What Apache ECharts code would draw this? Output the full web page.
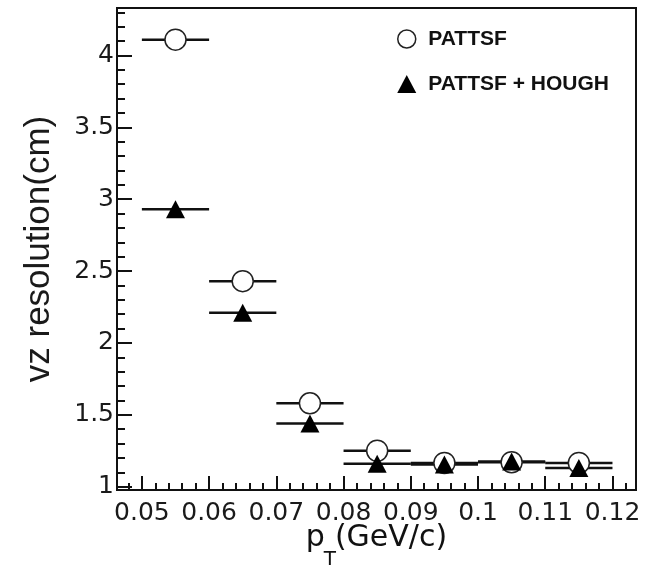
<!DOCTYPE html>
<html>
<head>
<meta charset="utf-8">
<script src="https://cdn.jsdelivr.net/npm/echarts@6/dist/echarts.min.js"></script>
<style>html,body{margin:0;padding:0;background:#fff;}#c{width:662px;height:566px;}</style>
</head>
<body>
<div id="c"></div>
<script>
// ---- data ----
const ptCenters = [0.055, 0.065, 0.075, 0.085, 0.095, 0.105, 0.115];
const ptHalfWidth = [0.005, 0.005, 0.005, 0.005, 0.005, 0.005, 0.005];
const pattsf = [4.11, 2.43, 1.58, 1.25, 1.165, 1.17, 1.165];
const pattsfHough = [2.93, 2.21, 1.44, 1.16, 1.155, 1.175, 1.13];
const xTickLabels = [0.05, 0.06, 0.07, 0.08, 0.09, 0.1, 0.11, 0.12];
const yTickLabels = [1, 1.5, 2, 2.5, 3, 3.5, 4];
const seriesNames = ['PATTSF', 'PATTSF + HOUGH'];

// minor tick positions (axis decoration)
const xMinor = [];
for (let i = 24; i <= 61; i++) { if (i % 5 !== 0) xMinor.push(+(i * 0.002).toFixed(3)); }
const yMinor = [];
for (let i = 10; i <= 43; i++) { if (i % 5 !== 0) yMinor.push(+(i * 0.1).toFixed(1)); }

const X_MIN = 0.0463, X_MAX = 0.1235, Y_MIN = 0.977, Y_MAX = 4.33;

function errData(vals) {
  return ptCenters.map((x, i) => [x, vals[i], ptHalfWidth[i]]);
}
function renderErr(params, api) {
  const x = api.value(0), y = api.value(1), e = api.value(2);
  const p1 = api.coord([x - e, y]);
  const p2 = api.coord([x + e, y]);
  return {
    type: 'line',
    shape: { x1: p1[0], y1: p1[1], x2: p2[0], y2: p2[1] },
    style: { stroke: '#111', lineWidth: 2.5 }
  };
}

const labelFont = { fontFamily: 'DejaVu Sans', fontSize: 25, color: '#1a1a1a' };

const chart = echarts.init(document.getElementById('c'), null, { renderer: 'canvas' });
chart.setOption({
  animation: false,
  backgroundColor: '#fff',
  grid: {
    left: 117, right: 26, top: 8, bottom: 76, containLabel: false, outerBoundsMode: 'none',
    show: true, borderColor: '#111', borderWidth: 2, backgroundColor: 'transparent'
  },
  legend: {
    orient: 'vertical', left: 392, top: 23, itemWidth: 19, itemHeight: 18, itemGap: 23,
    selectedMode: false,
    textStyle: { fontFamily: 'Liberation Sans', fontWeight: 'bold', fontSize: 21, color: '#111', lineHeight: 22, padding: [0, 0, 0, 7] },
    data: [
      { name: seriesNames[0], icon: 'circle', itemStyle: { color: '#fff', borderColor: '#222', borderWidth: 1.5 } },
      { name: seriesNames[1], icon: 'triangle', itemStyle: { color: '#000' } }
    ]
  },
  xAxis: [
    {
      type: 'value', min: X_MIN, max: X_MAX, position: 'bottom', offset: 0,
      axisLine: { show: true, onZero: false, lineStyle: { color: '#111', width: 2 } },
      axisTick: { show: true, inside: true, length: 14, customValues: xTickLabels, lineStyle: { color: '#111', width: 2 } },
      axisLabel: Object.assign({ customValues: xTickLabels, margin: 11, formatter: v => String(v) }, labelFont),
      splitLine: { show: false },
      name: '{m|p}{s|T}{m|(GeV/c)}', nameLocation: 'middle', nameGap: 33, nameMoveOverlap: false,
      nameTextStyle: {
        rich: {
          m: { fontFamily: 'DejaVu Sans', fontSize: 30, lineHeight: 32, verticalAlign: 'top', color: '#111' },
          s: { fontFamily: 'DejaVu Sans', fontSize: 20, lineHeight: 22, width: 10, verticalAlign: 'top', padding: [27, 0, 0, 0], color: '#111' }
        }
      }
    },
    {
      type: 'value', min: X_MIN, max: X_MAX, position: 'bottom', offset: 0,
      axisLine: { show: false, onZero: false },
      axisTick: { show: true, inside: true, length: 7, customValues: xMinor, lineStyle: { color: '#111', width: 2 } },
      axisLabel: { show: false },
      splitLine: { show: false }
    }
  ],
  yAxis: [
    {
      type: 'value', min: Y_MIN, max: Y_MAX, position: 'left', offset: 0,
      axisLine: { show: true, onZero: false, lineStyle: { color: '#111', width: 2 } },
      axisTick: { show: true, inside: true, length: 15, customValues: yTickLabels, lineStyle: { color: '#111', width: 2 } },
      axisLabel: Object.assign({ customValues: yTickLabels, margin: 3, formatter: v => String(v) }, labelFont),
      splitLine: { show: false },
      name: 'vz resolution(cm)', nameLocation: 'middle', nameGap: 60, nameMoveOverlap: false,
      nameTextStyle: { fontFamily: 'Liberation Sans', fontSize: 35, color: '#1a1a1a' }
    },
    {
      type: 'value', min: Y_MIN, max: Y_MAX, position: 'left', offset: 0,
      axisLine: { show: false, onZero: false },
      axisTick: { show: true, inside: true, length: 8, customValues: yMinor, lineStyle: { color: '#111', width: 2 } },
      axisLabel: { show: false },
      splitLine: { show: false }
    }
  ],
  series: [
    { type: 'custom', name: 'errA', xAxisIndex: 0, yAxisIndex: 0, data: errData(pattsf), renderItem: renderErr, encode: { x: 0, y: 1 }, z: 1, silent: true },
    { type: 'custom', name: 'errB', xAxisIndex: 0, yAxisIndex: 0, data: errData(pattsfHough), renderItem: renderErr, encode: { x: 0, y: 1 }, z: 1, silent: true },
    {
      type: 'scatter', name: seriesNames[0], xAxisIndex: 0, yAxisIndex: 0,
      data: ptCenters.map((x, i) => [x, pattsf[i]]),
      symbol: 'circle', symbolSize: 21,
      itemStyle: { color: '#fff', borderColor: '#222', borderWidth: 1.5, opacity: 1 }, z: 3
    },
    {
      type: 'scatter', name: seriesNames[1], xAxisIndex: 0, yAxisIndex: 0,
      data: ptCenters.map((x, i) => [x, pattsfHough[i]]),
      symbol: 'triangle', symbolSize: [19, 18],
      itemStyle: { color: '#000', opacity: 1 }, z: 4
    }
  ]
});
</script>
</body>
</html>
